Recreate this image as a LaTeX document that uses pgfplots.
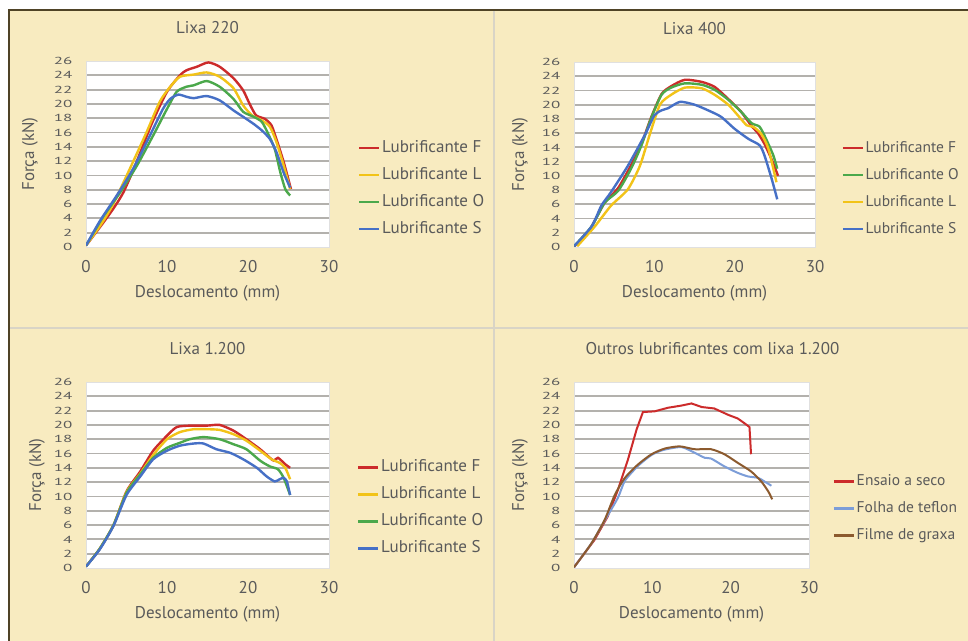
\documentclass[border=0pt]{standalone}
\usepackage{fontspec}
\setmainfont{PT Sans}
\usepackage{pgfplots}
\pgfplotsset{compat=1.18}
\definecolor{bg}{HTML}{F8EBC0}
\definecolor{framec}{HTML}{4F4326}
\definecolor{sepc}{HTML}{D9D4C6}
\definecolor{txt}{HTML}{5A5A5A}
\definecolor{cF}{HTML}{CC2B2B}
\definecolor{cL}{HTML}{F2C318}
\definecolor{cO}{HTML}{4BA84B}
\definecolor{cS}{HTML}{4670C6}
\definecolor{cT}{HTML}{7C9DD8}
\definecolor{cG}{HTML}{8C5A2E}
\definecolor{gridc}{HTML}{B3B1AD}
\newcommand{\f}{\fontsize{17bp}{20bp}\selectfont}
\newcommand{\fs}{\fontsize{15.5bp}{18bp}\selectfont}
\pgfplotsset{
 panel/.style={
  scale only axis, width=243bp, height=186bp,
  xmin=0, xmax=30, ymin=0, ymax=26,
  xtick={0,10,20,30}, ytick={0,2,...,26},
  minor ytick={2,4,...,24}, yminorgrids,
  minor grid style={gridc, line width=1.8bp},
  major tick length=0pt, minor tick length=0pt,
  axis background/.style={fill=white},
  axis line style={draw=black!12, line width=0.8bp},
  /pgf/number format/assume math mode=true,
  tick label style={font=\f, text=txt},
  xticklabel style={anchor=center, yshift=-20bp},
  yticklabel style={anchor=east, xshift=-10bp},
  yticklabel={\scalebox{1}[0.6]{\pgfmathprintnumber{\tick}}},
  title style={font=\f, text=txt, at={(axis description cs:0.5,1)}, anchor=south, yshift=18bp},
  xlabel={Deslocamento (mm)}, ylabel={Força (kN)},
  xlabel style={font=\f, text=txt, at={(axis description cs:0.5,0)}, anchor=center, yshift=-46bp},
  ylabel style={font=\f, text=txt, at={([xshift=-56bp]axis description cs:0,0.5)}, anchor=center},
  legend style={draw=none, fill=none, font=\f, text=txt, anchor=west, at={(1.119,0.315)},
    inner sep=0pt, row sep=9bp, nodes={inner sep=1.5bp, text height=12bp, text depth=3bp}},
  legend cell align=left,
  legend image code/.code={\draw[#1, line width=2.5bp] (0bp,0bp) -- (20bp,0bp);},
  every axis plot/.append style={line width=2.4bp, smooth, tension=0.4},
 }
}
\begin{document}
\begin{tikzpicture}[x=1bp,y=1bp]
\useasboundingbox (0,0) rectangle (968,641);
\clip (0,0) rectangle (968,641);
\fill[white] (0,0) rectangle (968,641);
\fill[bg] (9,0) rectangle (968,631);
\draw[framec, line width=2.2] (9,-2) -- (9,631) -- (970,631);
\draw[sepc, line width=2.6] (494,0) -- (494,630);
\draw[sepc, line width=2.6] (10,313) -- (968,313);

% Panel 1
\begin{axis}[panel, at={(86bp,394bp)}, anchor=south west, title={Lixa 220}]
\addplot[cF] coordinates {(0,0.2)(2,3.2)(3.4,5.4)(4.6,7.6)(6,11.2)(8.1,17.2)(10,21.7)(11.6,24)(12.4,24.7)(13.7,25.2)(15.1,25.8)(16.5,25.2)(18.2,23.6)(19.4,21.9)(20.2,20)(21,18.4)(22.1,17.9)(22.9,17)(23.5,15.1)(24.4,11.9)(25.3,8.1)};
\addlegendentry{Lubrificante F}
\addplot[cL] coordinates {(0,0.2)(2,3.4)(3.4,6.1)(5.4,10.9)(7.5,16.1)(9.1,20.3)(10.4,22.4)(11.6,23.8)(13.3,24.1)(14.9,24.4)(16.5,23.8)(18.2,22.2)(19.4,19.8)(20.5,18.4)(21.7,17.7)(22.7,16.8)(23.5,14.7)(24.4,11.4)(25.2,8.1)};
\addlegendentry{Lubrificante L}
\addplot[cO] coordinates {(0,0.2)(2.1,4.2)(4.2,7.6)(6.3,11.4)(8.3,15.6)(10,19.3)(11.2,21.7)(12.4,22.4)(13.3,22.6)(14.9,23.2)(16.5,22.4)(18.2,20.7)(19.4,18.9)(20.7,18.2)(21.7,17.5)(22.5,15.8)(23.3,13.7)(24,10.4)(24.6,8.1)(25.2,7.2)};
\addlegendentry{Lubrificante O}
\addplot[cS] coordinates {(0,0.2)(1.7,3.6)(3.8,7.2)(5.8,10.9)(7.9,15.6)(9.5,19.3)(10.4,20.7)(11.4,21.3)(12.4,21)(13.3,20.8)(14.9,21.1)(16.5,20.5)(18.2,19.1)(19.4,18.2)(20.7,17.2)(21.7,16.3)(22.7,15.1)(23.5,13.3)(24.4,10.4)(25.2,8.3)};
\addlegendentry{Lubrificante S}
\end{axis}

% Panel 2
\begin{axis}[panel, width=241bp, height=185bp, at={(574bp,394bp)}, anchor=south west, title={Lixa 400},
  ylabel style={at={([xshift=-54bp]axis description cs:0,0.5)}},
  legend style={at={(1.11,0.315)}, font=\fs}]
\addplot[cF] coordinates {(0,0.1)(1,1)(2.2,2.9)(3.8,6.2)(5.5,8.3)(7.1,11.5)(8.4,14.5)(9.6,18.2)(10.9,21.5)(12.1,22.6)(13.8,23.5)(15.9,23.2)(17.5,22.5)(19.2,20.8)(20.8,19)(22.1,17)(22.9,16)(23.7,14.5)(24.6,12.3)(25.4,10)};
\addlegendentry{Lubrificante F}
\addplot[cO] coordinates {(0,0.1)(2.2,2.9)(3.8,6.2)(5.5,7.9)(7.1,11)(8.4,14.3)(9.6,18.1)(10.9,21.4)(12.1,22.4)(13.8,23)(15.9,22.8)(17.5,22.1)(19.2,20.7)(20.8,19)(22.1,17.4)(23.1,16.9)(23.9,15.2)(24.8,12.9)(25.3,11)};
\addlegendentry{Lubrificante O}
\addplot[cL] coordinates {(0.4,0.1)(2.6,2.9)(4.6,5.8)(6.7,8.1)(8.2,11.4)(9.4,15.7)(10.7,20)(12.1,21.4)(13.8,22.4)(15.9,22.3)(17.5,21.4)(19.2,20)(20.4,18.5)(21.5,17.1)(22.3,16.9)(23.3,15.9)(24.2,13.8)(25.2,9.1)};
\addlegendentry{Lubrificante L}
\addplot[cS] coordinates {(0,0.1)(2.2,2.9)(3.4,5.8)(4.6,7.7)(6.7,11.4)(8.8,15.7)(10,18.5)(10.9,19.2)(11.7,19.5)(13.2,20.4)(15,20)(16.7,19.2)(18.3,18.3)(20,16.6)(21.7,15.2)(23.1,14.3)(23.7,12.9)(24.6,9.6)(25.3,6.7)};
\addlegendentry{Lubrificante S}
\end{axis}

% Panel 3
\begin{axis}[panel, at={(86bp,73bp)}, anchor=south west, title={Lixa 1.200},
  ylabel style={at={([xshift=-49bp]axis description cs:0,0.5)}},
  legend style={at={(1.115,0.323)}}]
\addplot[cF] coordinates {(0,0.2)(1.7,2.7)(3.4,6)(5,10.7)(6.7,13.5)(8.3,16.4)(10,18.5)(11.2,19.7)(12.8,19.9)(14.9,19.9)(16.5,20)(18.2,19.2)(19.8,18)(21.5,16.6)(22.7,15.4)(23.2,15)(23.7,15.4)(24.6,14.5)(25.2,14)};
\addlegendentry{Lubrificante F}
\addplot[cL] coordinates {(0,0.2)(1.7,2.7)(3.4,6)(5,10.6)(6.7,13.2)(8.3,15.8)(10,18)(11.6,19)(13.3,19.4)(14.9,19.4)(16.5,19.3)(18.2,18.7)(19.8,17.8)(21.5,16.4)(22.9,15.2)(23.9,14.7)(24.6,14)(25.2,12.4)};
\addlegendentry{Lubrificante L}
\addplot[cO] coordinates {(0,0.2)(1.7,2.7)(3.4,6)(5,10.5)(6.7,13.1)(8.3,15.4)(10,16.8)(11.6,17.5)(12.8,18)(14.5,18.3)(16.5,18)(18.2,17.3)(19.8,16.6)(21.5,15)(22.7,14.2)(23.7,13.8)(24.4,12.6)(25.2,10.2)};
\addlegendentry{Lubrificante O}
\addplot[cS] coordinates {(0,0.2)(1.7,2.6)(3.4,5.9)(5,10.2)(6.7,12.8)(8.3,15.2)(10,16.4)(11.6,17.1)(13.3,17.4)(14.5,17.4)(16.1,16.6)(17.8,16.1)(19.4,15.2)(21.1,14)(22.3,12.8)(23.3,12.1)(23.9,12.4)(24.4,12.6)(24.8,12.1)(25.2,10.2)};
\addlegendentry{Lubrificante S}
\end{axis}

% Panel 4
\begin{axis}[panel, width=235bp, at={(574bp,73bp)}, anchor=south west, title={Outros lubrificantes com lixa 1.200},
  title style={xshift=21bp},
  ylabel style={at={([xshift=-54bp]axis description cs:0,0.5)}},
  legend style={at={(1.1,0.32)}, font=\fs},
  every axis plot/.append style={line width=2bp}]
\addplot[cF, sharp plot] coordinates {(0,0.1)(2.6,3.9)(4.3,7.2)(5.6,10.9)(6.9,15.2)(8,19.4)(8.8,21.8)(10.3,21.9)(12,22.4)(13.7,22.7)(15,23)(16.3,22.5)(17.9,22.3)(19.7,21.4)(20.9,20.9)(21.8,20.2)(22.4,19.7)(22.6,15.9)};
\addlegendentry{Ensaio a seco}
\addplot[cT] coordinates {(0,0.1)(2.2,3.4)(3.9,6.6)(5.6,9.8)(6.5,12.2)(8.2,14.3)(9.9,15.8)(11.4,16.5)(13.7,16.9)(15.4,16.1)(16.7,15.4)(17.5,15.3)(19.2,14.2)(20.9,13.3)(22.2,12.8)(23.5,12.6)(24.3,12.1)(25.2,11.5)};
\addlegendentry{Folha de teflon}
\addplot[cG] coordinates {(0,0.1)(2.2,3.4)(3.9,6.7)(5.2,10.2)(6.5,12.6)(8.2,14.5)(9.9,15.9)(11.6,16.7)(13.5,17)(15.4,16.6)(17.5,16.6)(19.2,15.9)(20.9,14.7)(22.6,13.5)(23.9,12.1)(24.8,10.7)(25.3,9.6)};
\addlegendentry{Filme de graxa}
\end{axis}
\end{tikzpicture}
\end{document}
